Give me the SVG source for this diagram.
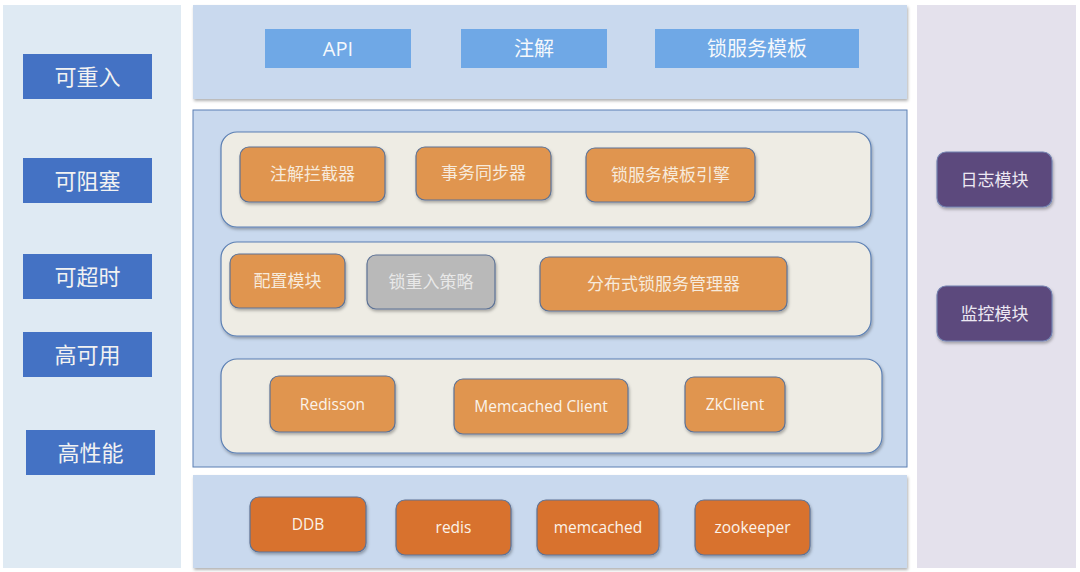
<svg xmlns="http://www.w3.org/2000/svg" width="1080" height="572" viewBox="0 0 1080 572">
<defs>
<filter id="sh" x="-10%" y="-10%" width="125%" height="130%">
<feDropShadow dx="1" dy="2" stdDeviation="1.5" flood-color="#000" flood-opacity="0.3"/>
</filter>
<style>
.cjk{font-family:"Noto Sans CJK SC","Noto Sans",sans-serif;}
.lat{font-family:"Open Sans","Noto Sans",sans-serif;}
.lf{fill:#4472c4;}
.lt{fill:#f2f2f2;font-size:22px;}
.api{fill:#6fa8e6;}
.apit{fill:#f5f8fc;font-size:20px;}
.row{fill:#eeece4;stroke:#5b7fb3;stroke-width:1.2;}
.or{fill:#e0954f;stroke:#5d7295;stroke-width:1.2;}
.gr{fill:#b9b9b9;stroke:#5d7295;stroke-width:1.2;}
.dor{fill:#d8722f;stroke:#5d7295;stroke-width:1.2;}
.pu{fill:#5b4a7d;stroke:#7280b0;stroke-width:1.2;}
.nt{fill:#f7eadb;font-size:17px;}
.gt{fill:#e8e8e8;font-size:17px;}
.et{fill:#fbf3ea;font-size:15.5px;}
.pt{fill:#ece8f2;font-size:17px;}
</style>
</defs>
<rect width="1080" height="572" fill="#ffffff"/>
<!-- panels -->
<rect x="3" y="5" width="178" height="563" fill="#dfeaf3"/>
<rect x="917" y="5" width="159" height="563" fill="#e4e1ec"/>
<rect x="193" y="5" width="714" height="94" fill="#c9d9ee" filter="url(#sh)"/>
<rect x="193" y="110" width="714" height="357" fill="#c9d9ee" stroke="#5b7fb3" stroke-width="1"/>
<rect x="193" y="475" width="714" height="93" fill="#c9d9ee" filter="url(#sh)"/>
<rect x="221" y="132" width="650" height="95" rx="16" class="row" filter="url(#sh)"/>
<rect x="221" y="242" width="650" height="94" rx="16" class="row" filter="url(#sh)"/>
<rect x="221" y="359" width="661" height="94" rx="16" class="row" filter="url(#sh)"/>
<g id="connectors"></g>
<!-- left -->
<g id="n-kcr"><rect x="23" y="54" width="129" height="45" class="lf"/><text x="87.5" y="84.5" text-anchor="middle" class="cjk lt">可重入</text></g>
<g id="n-kzs"><rect x="23" y="158" width="129" height="45" class="lf"/><text x="87.5" y="188.5" text-anchor="middle" class="cjk lt">可阻塞</text></g>
<g id="n-kcs"><rect x="23" y="254" width="129" height="45" class="lf"/><text x="87.5" y="284.5" text-anchor="middle" class="cjk lt">可超时</text></g>
<g id="n-gky"><rect x="23" y="332" width="129" height="45" class="lf"/><text x="87.5" y="362.5" text-anchor="middle" class="cjk lt">高可用</text></g>
<g id="n-gxn"><rect x="26" y="430" width="129" height="45" class="lf"/><text x="90.5" y="460.5" text-anchor="middle" class="cjk lt">高性能</text></g>
<!-- top -->
<g id="n-api"><rect x="265" y="29" width="146" height="39" class="api"/><text x="338" y="56" text-anchor="middle" class="lat apit">API</text></g>
<g id="n-zj"><rect x="461" y="29" width="146" height="39" class="api"/><text x="534" y="56" text-anchor="middle" class="cjk apit">注解</text></g>
<g id="n-fwmb"><rect x="655" y="29" width="204" height="39" class="api"/><text x="757" y="56" text-anchor="middle" class="cjk apit">锁服务模板</text></g>
<!-- row 1 -->
<g id="n-zjljq"><rect x="240" y="147" width="145" height="55" rx="9" class="or" filter="url(#sh)"/><text x="312.5" y="180" text-anchor="middle" class="cjk nt">注解拦截器</text></g>
<g id="n-swtbq"><rect x="416" y="147" width="135" height="53" rx="9" class="or" filter="url(#sh)"/><text x="483.5" y="179" text-anchor="middle" class="cjk nt">事务同步器</text></g>
<g id="n-mbyq"><rect x="586" y="148" width="169" height="54" rx="9" class="or" filter="url(#sh)"/><text x="670.5" y="181" text-anchor="middle" class="cjk nt">锁服务模板引擎</text></g>
<!-- row 2 -->
<g id="n-pzmk"><rect x="230" y="254" width="115" height="54" rx="9" class="or" filter="url(#sh)"/><text x="287.5" y="287" text-anchor="middle" class="cjk nt">配置模块</text></g>
<g id="n-crcl"><rect x="367" y="255" width="128" height="54" rx="9" class="gr" filter="url(#sh)"/><text x="431" y="288" text-anchor="middle" class="cjk gt">锁重入策略</text></g>
<g id="n-glq"><rect x="540" y="257" width="247" height="54" rx="9" class="or" filter="url(#sh)"/><text x="663.5" y="290" text-anchor="middle" class="cjk nt">分布式锁服务管理器</text></g>
<!-- row 3 -->
<g id="n-redisson"><rect x="270" y="376" width="125" height="56" rx="9" class="or" filter="url(#sh)"/><text x="332.5" y="410" text-anchor="middle" class="lat et">Redisson</text></g>
<g id="n-memc"><rect x="454" y="379" width="174" height="55" rx="9" class="or" filter="url(#sh)"/><text x="541" y="412" text-anchor="middle" class="lat et">Memcached Client</text></g>
<g id="n-zkc"><rect x="685" y="377" width="100" height="55" rx="9" class="or" filter="url(#sh)"/><text x="735" y="410" text-anchor="middle" class="lat et">ZkClient</text></g>
<!-- bottom -->
<g id="n-ddb"><rect x="250" y="497" width="116" height="55" rx="9" class="dor" filter="url(#sh)"/><text x="308" y="530" text-anchor="middle" class="lat et">DDB</text></g>
<g id="n-redis"><rect x="396" y="500" width="115" height="55" rx="9" class="dor" filter="url(#sh)"/><text x="453.5" y="533" text-anchor="middle" class="lat et">redis</text></g>
<g id="n-mcd"><rect x="537" y="500" width="122" height="55" rx="9" class="dor" filter="url(#sh)"/><text x="598" y="533" text-anchor="middle" class="lat et">memcached</text></g>
<g id="n-zk"><rect x="695" y="500" width="115" height="55" rx="9" class="dor" filter="url(#sh)"/><text x="752.5" y="533" text-anchor="middle" class="lat et">zookeeper</text></g>
<!-- right -->
<g id="n-rzmk"><rect x="937" y="152" width="115" height="55" rx="9" class="pu" filter="url(#sh)"/><text x="994.5" y="186" text-anchor="middle" class="cjk pt">日志模块</text></g>
<g id="n-jkmk"><rect x="937" y="286" width="115" height="55" rx="9" class="pu" filter="url(#sh)"/><text x="994.5" y="320" text-anchor="middle" class="cjk pt">监控模块</text></g>
</svg>
